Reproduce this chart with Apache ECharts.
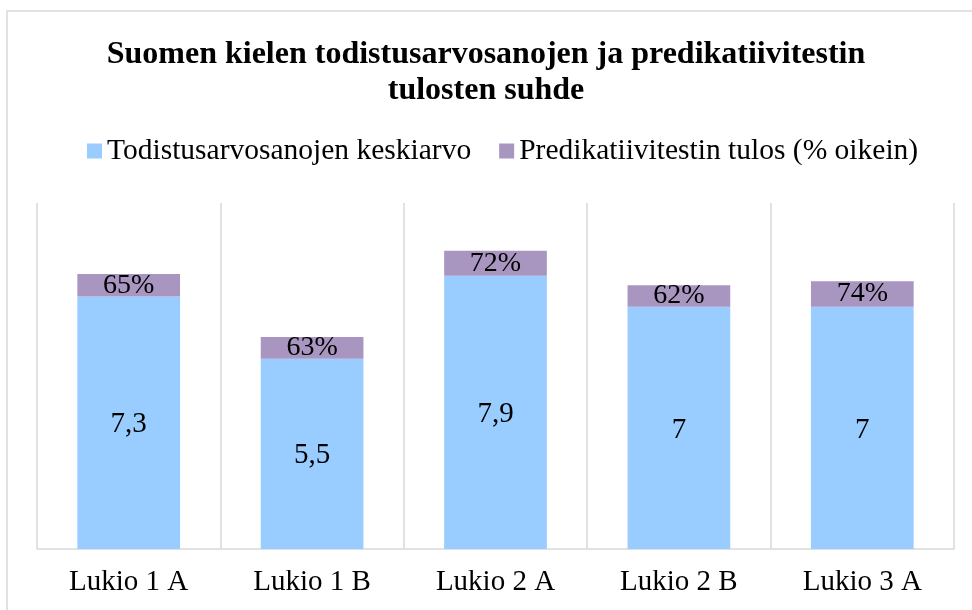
<!DOCTYPE html>
<html>
<head>
<meta charset="utf-8">
<script src="https://cdn.jsdelivr.net/npm/echarts@6/dist/echarts.min.js"></script>
<style>
  html, body { margin: 0; padding: 0; background: #fff; }
  #main { width: 972px; height: 610px; }
</style>
</head>
<body>
<div id="main"></div>
<script>
const categories = ['Lukio 1 A', 'Lukio 1 B', 'Lukio 2 A', 'Lukio 2 B', 'Lukio 3 A'];
const gradeAverage = [7.3, 5.5, 7.9, 7, 7];
const testResult = [0.65, 0.63, 0.72, 0.62, 0.74];

const font = '"Liberation Serif", "Times New Roman", serif';
const chart = echarts.init(document.getElementById('main'));

chart.setOption({
  animation: false,
  backgroundColor: '#fff',
  textStyle: { fontFamily: font, color: '#000' },
  title: {
    text: 'Suomen kielen todistusarvosanojen ja predikatiivitestin\ntulosten suhde',
    left: 'center',
    top: 32,
    textStyle: { fontFamily: font, fontSize: 32, fontWeight: 'bold', color: '#000', lineHeight: 36 }
  },
  legend: {
    top: 131,
    left: 82,
    icon: 'rect',
    itemWidth: 15,
    itemHeight: 15,
    itemGap: 28,
    textStyle: { fontFamily: font, fontSize: 29.5, color: '#000' },
    data: ['Todistusarvosanojen keskiarvo', 'Predikatiivitestin tulos (% oikein)']
  },
  grid: { left: 37, right: 18, top: 203, bottom: 61 },
  xAxis: {
    type: 'category',
    data: categories,
    axisTick: { show: false },
    axisLine: { lineStyle: { color: '#d9d9d9', width: 1.5 } },
    splitLine: { show: true, lineStyle: { color: '#d9d9d9', width: 1.5 } },
    axisLabel: { fontFamily: font, fontSize: 29, color: '#000', margin: 19 }
  },
  yAxis: {
    type: 'value',
    min: 0,
    max: 10,
    show: false
  },
  graphic: [{
    type: 'rect',
    shape: { x: 7, y: 11, width: 990, height: 640 },
    style: { fill: 'none', stroke: '#d9d9d9', lineWidth: 1.5 },
    silent: true
  }],
  series: [
    {
      name: 'Todistusarvosanojen keskiarvo',
      type: 'bar',
      stack: 'total',
      barCategoryGap: '44%',
      data: gradeAverage,
      itemStyle: { color: '#99CCFF' },
      label: {
        show: true,
        position: 'inside',
        offset: [0, 2],
        fontFamily: font,
        fontSize: 29,
        color: '#000',
        formatter: p => String(p.value).replace('.', ',')
      }
    },
    {
      name: 'Predikatiivitestin tulos (% oikein)',
      type: 'bar',
      stack: 'total',
      data: testResult,
      itemStyle: { color: '#A896C1' },
      label: {
        show: true,
        position: 'inside',
        fontFamily: font,
        fontSize: 28,
        color: '#000',
        formatter: p => Math.round(p.value * 100) + '%'
      }
    }
  ]
});
</script>
</body>
</html>
